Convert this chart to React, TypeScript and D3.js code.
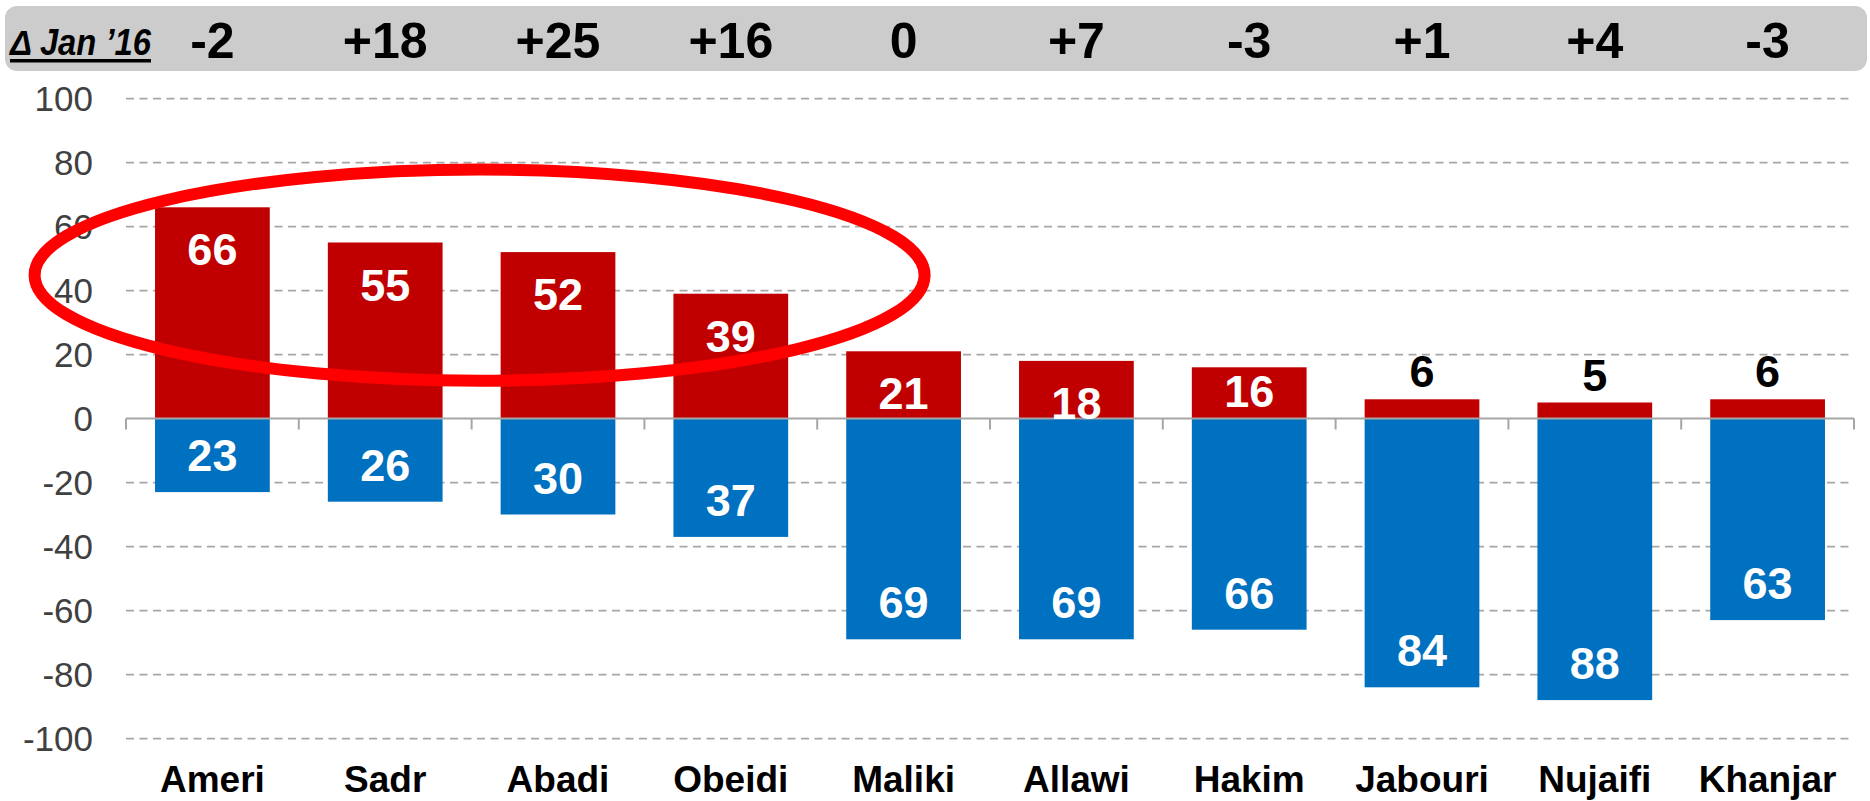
import React from "react";
import * as d3 from "d3";

const candidates = ["Ameri", "Sadr", "Abadi", "Obeidi", "Maliki", "Allawi", "Hakim", "Jabouri", "Nujaifi", "Khanjar"];
const favourable = [66, 55, 52, 39, 21, 18, 16, 6, 5, 6];
const unfavourable = [23, 26, 30, 37, 69, 69, 66, 84, 88, 63];
const changeSinceJan = ["-2", "+18", "+25", "+16", "0", "+7", "-3", "+1", "+4", "-3"];
const yTicks = [100, 80, 60, 40, 20, 0, -20, -40, -60, -80, -100];

const RED = "#C00000";
const BLUE = "#0070C0";
const GRID = "#A6A6A6";
const FONT = "'Liberation Sans', Arial, sans-serif";
const NARROW = "'Liberation Sans Narrow', 'Arial Narrow', 'Liberation Sans', sans-serif";

export default function App() {
  const width = 1870;
  const height = 801;

  const x = d3.scaleBand<string>()
    .domain(candidates)
    .range([126, 1854])
    .paddingInner(0.336)
    .paddingOuter(0.168);

  const y = d3.scaleLinear().domain([-100, 100]).range([738.5, 98.5]);

  const step = x.step();
  const bw = x.bandwidth();
  const center = (c: string) => (x(c) ?? 0) + bw / 2;
  const boundaries = d3.range(candidates.length + 1).map((i) => 126 + i * step);

  // highlight ellipse around the first four candidates
  const ellCx = (d3.mean(candidates.slice(0, 4), center) ?? 0) + 8;
  const ellCy = y(44.8);
  const ellRx = 445;
  const ellRy = y(0) - y(33);

  return (
    <div style={{ position: "fixed", left: 0, top: 0 }}>
      <svg width={width} height={height} style={{ display: "block", background: "#fff" }}>
        {/* header band */}
        <rect x={5} y={6} width={1862} height={65} rx={12} ry={12} fill="#CCCCCC" />
        <text
          x={10}
          y={55}
          fontFamily={NARROW}
          fontSize={36}
          fontWeight="bold"
          fontStyle="italic"
          textLength={141}
          lengthAdjust="spacingAndGlyphs"
          fill="#000"
        >
          Δ Jan ’16
        </text>
        <rect x={10} y={59} width={141} height={3.5} fill="#000" />
        {candidates.map((c, i) => (
          <text
            key={"h" + c}
            x={center(c)}
            y={58}
            textAnchor="middle"
            fontFamily={NARROW}
            fontSize={50}
            fontWeight="bold"
            fill="#000"
          >
            {changeSinceJan[i]}
          </text>
        ))}

        {/* gridlines */}
        {yTicks.filter((t) => t !== 0).map((t) => (
          <line
            key={"g" + t}
            x1={126}
            x2={1854}
            y1={y(t)}
            y2={y(t)}
            stroke={GRID}
            strokeWidth={1.75}
            strokeDasharray="8 5.5"
          />
        ))}

        {/* y tick labels */}
        {yTicks.map((t) => (
          <text
            key={"t" + t}
            x={93}
            y={y(t)}
            dy="0.36em"
            textAnchor="end"
            fontFamily={FONT}
            fontSize={35}
            fill="#404040"
          >
            {t}
          </text>
        ))}

        {/* bars */}
        {candidates.map((c, i) => (
          <g key={"b" + c}>
            <rect x={x(c)} y={y(favourable[i])} width={bw} height={y(0) - y(favourable[i])} fill={RED} />
            <rect x={x(c)} y={y(0)} width={bw} height={y(-unfavourable[i]) - y(0)} fill={BLUE} />
          </g>
        ))}

        {/* zero axis with ticks */}
        <line x1={126} x2={1854} y1={y(0)} y2={y(0)} stroke={GRID} strokeWidth={2} />
        {boundaries.map((bx, i) => (
          <line key={"k" + i} x1={bx} x2={bx} y1={y(0)} y2={y(0) + 11} stroke={GRID} strokeWidth={2} />
        ))}

        {/* value labels */}
        {candidates.map((c, i) => {
          const v = favourable[i];
          const top = y(v);
          let ly = top + 58;
          let fill = "#fff";
          if (v < 10) {
            ly = top - 12;
            fill = "#000";
          } else if (v < 18) {
            ly = (top + y(0)) / 2 + 14;
          }
          return (
            <text
              key={"lv" + c}
              x={center(c)}
              y={ly}
              textAnchor="middle"
              fontFamily={FONT}
              fontSize={45}
              fontWeight="bold"
              fill={fill}
            >
              {v}
            </text>
          );
        })}
        {candidates.map((c, i) => (
          <text
            key={"lu" + c}
            x={center(c)}
            y={y(-unfavourable[i]) - 21}
            textAnchor="middle"
            fontFamily={FONT}
            fontSize={45}
            fontWeight="bold"
            fill="#fff"
          >
            {unfavourable[i]}
          </text>
        ))}

        {/* category labels */}
        {candidates.map((c) => (
          <text
            key={"x" + c}
            x={center(c)}
            y={792}
            textAnchor="middle"
            fontFamily={FONT}
            fontSize={37}
            fontWeight="bold"
            fill="#000"
          >
            {c}
          </text>
        ))}

        {/* highlight */}
        <ellipse cx={ellCx} cy={ellCy} rx={ellRx} ry={ellRy} fill="none" stroke="#FF0000" strokeWidth={12} />
      </svg>
    </div>
  );
}
